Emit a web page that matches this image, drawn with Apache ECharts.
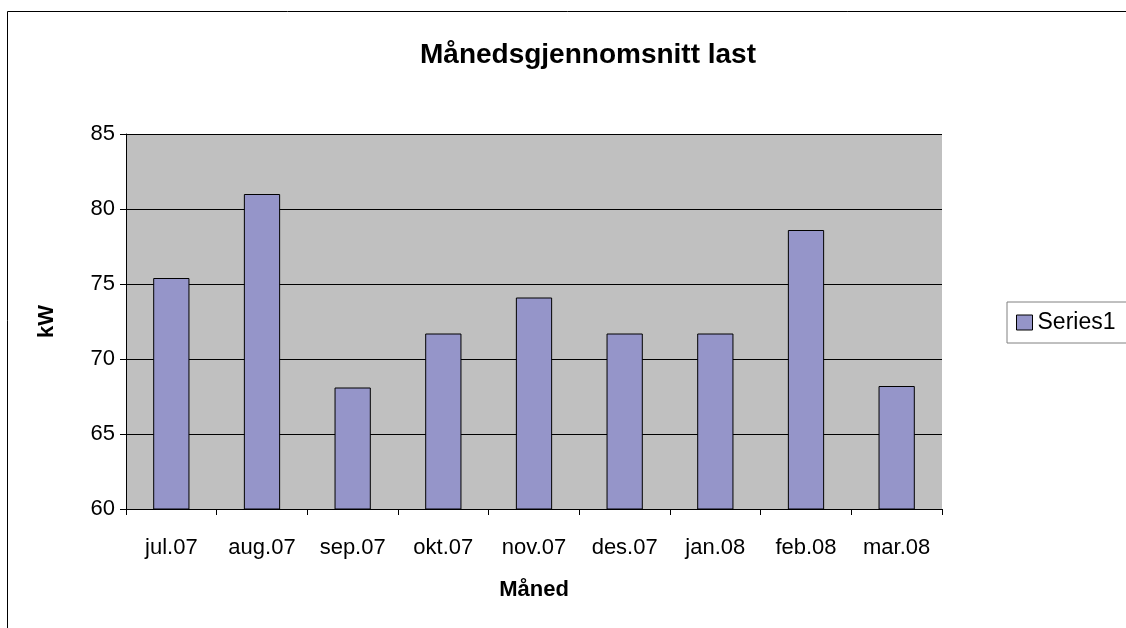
<!DOCTYPE html>
<html>
<head>
<meta charset="utf-8">
<script src="https://cdn.jsdelivr.net/npm/echarts@6/dist/echarts.min.js"></script>
<style>
  html, body { margin: 0; padding: 0; background: #fff; }
  #chart { width: 1126px; height: 628px; }
</style>
</head>
<body>
<div id="chart"></div>
<script>
// monthly average load
var months = ['jul.07', 'aug.07', 'sep.07', 'okt.07', 'nov.07', 'des.07', 'jan.08', 'feb.08', 'mar.08'];
var load = [75.4, 81.0, 68.1, 71.7, 74.1, 71.7, 71.7, 78.6, 68.2];
var yTicks = [60, 65, 70, 75, 80, 85];

var chart = echarts.init(document.getElementById('chart'));
var font = 'Liberation Sans, Arial, sans-serif';

var option = {
  backgroundColor: '#fff',
  animation: false,
  title: {
    text: 'Månedsgjennomsnitt last',
    left: 583,
    top: 36,
    textAlign: 'center',
    textStyle: { fontFamily: font, fontSize: 28, fontWeight: 'bold', color: '#000' }
  },
  legend: {
    left: 1007,
    top: 302,
    orient: 'vertical',
    padding: [9, 40, 9, 9],
    borderColor: '#808080',
    borderWidth: 1,
    itemWidth: 16,
    itemHeight: 15,
    icon: 'rect',
    itemStyle: { borderColor: '#000', borderWidth: 1 },
    textStyle: { fontFamily: font, fontSize: 23, color: '#000' },
    data: ['Series1']
  },
  grid: {
    left: 126,
    right: 184,
    top: 134,
    bottom: 119,
    show: true,
    backgroundColor: '#C0C0C0',
    borderWidth: 0
  },
  xAxis: {
    type: 'category',
    data: months,
    name: 'Måned',
    nameLocation: 'middle',
    nameGap: 70,
    nameTextStyle: { fontFamily: font, fontSize: 22, fontWeight: 'bold', color: '#000' },
    axisLine: { lineStyle: { color: '#000', width: 1 } },
    axisTick: { show: true, interval: 0, length: 6, lineStyle: { color: '#000' } },
    axisLabel: { interval: 0, fontFamily: font, fontSize: 22, color: '#000', margin: 28 }
  },
  yAxis: {
    type: 'value',
    min: yTicks[0],
    max: yTicks[yTicks.length - 1],
    interval: 5,
    name: 'kW',
    nameLocation: 'middle',
    nameGap: 68,
    nameTextStyle: { fontFamily: font, fontSize: 22, fontWeight: 'bold', color: '#000' },
    axisLine: { show: true, lineStyle: { color: '#000', width: 1 } },
    axisTick: { show: true, length: 6, lineStyle: { color: '#000' } },
    axisLabel: { fontFamily: font, fontSize: 22, color: '#000', margin: 11 },
    splitLine: { show: true, lineStyle: { color: '#000', width: 1 } }
  },
  graphic: [{
    type: 'rect',
    shape: { x: 7.5, y: 11.5, width: 1200, height: 700 },
    style: { fill: 'none', stroke: '#000', lineWidth: 1 },
    silent: true
  }],
  series: [{
    name: 'Series1',
    type: 'bar',
    barWidth: '40%',
    data: load,
    itemStyle: { color: '#9595C9', borderColor: '#000', borderWidth: 1 }
  }]
};

chart.setOption(option);
</script>
</body>
</html>
